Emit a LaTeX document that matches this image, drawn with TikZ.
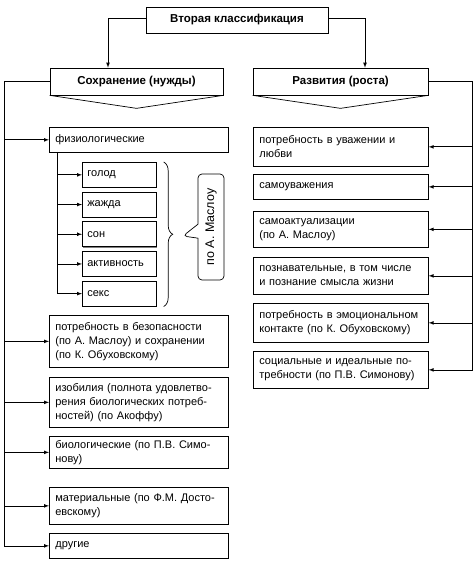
\documentclass[tikz,border=0pt]{standalone}
\usepackage{fontspec}
\setmainfont{Liberation Sans}
\usetikzlibrary{positioning,arrows,shadows,shapes.callouts,decorations.pathreplacing}

\newcommand{\fullline}[1]{\makebox[\hsize][s]{#1}}

\begin{document}
\begin{tikzpicture}[x=1pt, y=-1pt, >=latex, line width=0.7pt,
	font=\fontsize{11}{14}\selectfont,
	headbox/.style={rectangle, draw=black, fill=white, font=\fontsize{11.5}{14}\selectfont\bfseries, drop shadow={shadow xshift=1.2pt, shadow yshift=-1.2pt, fill=black}},
	itembox/.style={rectangle, draw=black, fill=white, anchor=north west, align=left, inner xsep=6pt, inner ysep=1pt, drop shadow={shadow xshift=1pt, shadow yshift=-1pt, fill=black}},
	lbox/.style={itembox, text width=167pt},
	rbox/.style={itembox, text width=163pt},
	sbox/.style={itembox, inner xsep=5pt, text width=64pt, minimum height=25pt},
	]
	\useasboundingbox[fill=white] (0,0) rectangle (474,561);
	
	%Nodes
	\node[headbox, minimum width=182pt, minimum height=26pt] (Top) at (237,20) {Вторая классификация};
	\node[headbox, minimum width=173pt, minimum height=27pt] (Sohr) at (136.5,81.5) {Сохранение (нужды)};
	\node[headbox, minimum width=175pt, minimum height=27pt] (Razv) at (340.5,81.5) {Развития (роста)};
	
	\node[lbox, minimum height=25pt] (Fiz) at (49,127) {физиологические};
	\node[sbox] (Golod) at (82,162) {голод};
	\node[sbox] (Zhazhda) [below=4pt of Golod] {жажда};
	\node[sbox] (Son) [below=4pt of Zhazhda] {сон};
	\node[sbox] (Aktiv) [below=4pt of Son] {активность};
	\node[sbox] (Seks) [below=4pt of Aktiv] {секс};
	\node[rectangle callout, draw, rounded corners=4pt, minimum width=26pt, minimum height=106pt,
		font=\fontsize{12.5}{14}\selectfont,
		callout absolute pointer={(183,236)}, callout pointer width=14pt] (Maslow) at (211,227) {\rotatebox{90}{по А. Маслоу}};
	\node[lbox, minimum height=52pt] (Bezop) at (49,315) {\fullline{потребность в безопасности}\\\fullline{(по А. Маслоу) и сохранении}\\(по К. Обуховскому)};
	\node[lbox, minimum height=50pt] (Izob) at (49,377) {\fullline{изобилия (полнота удовлетво-}\\\fullline{рения биологических потреб-}\\ностей) (по Акоффу)};
	\node[lbox, minimum height=32pt] (Biol) at (49,436) {\fullline{биологические (по П.В. Симо-}\\нову)};
	\node[lbox, minimum height=37pt] (Mater) at (49,487) {\fullline{материальные (по Ф.М. Досто-}\\евскому)};
	\node[lbox, minimum height=25pt] (Drug) at (49,533) {другие};
	
	\node[rbox, minimum height=39pt] (Uvazh) at (253,127) {потребность в уважении и\\любви};
	\node[rbox, minimum height=25pt] (Samouv) at (253,174) {самоуважения};
	\node[rbox, minimum height=36pt] (Samoakt) at (253,211) {самоактуализации\\(по А. Маслоу)};
	\node[rbox, minimum height=37pt] (Pozn) at (253,257) {\fullline{познавательные, в том числе}\\и познание смысла жизни};
	\node[rbox, minimum height=39pt] (Emoc) at (253,303) {\fullline{потребность в эмоциональном}\\контакте (по К. Обуховскому)};
	\node[rbox, minimum height=37pt] (Soc) at (253,351) {\fullline{социальные и идеальные по-}\\требности (по П.В. Симонову)};
	
	\coordinate (TrunkL) at (4,81.5);
	\coordinate (TrunkR) at (472,81.5);
	\coordinate (TrunkS) at (57,152);
	
	%Lines
	\draw[->] ([yshift=2pt]Top.west) -| ([xshift=-28.5pt]Sohr.north);
	\draw[->] ([yshift=2pt]Top.east) -| ([xshift=24.5pt]Razv.north);
	\draw (Sohr.south west) -- ([yshift=-13pt]Sohr.south) -- (Sohr.south east);
	\draw (Razv.south west) -- ([yshift=-13pt]Razv.south) -- (Razv.south east);
	
	\draw (Sohr.west) -- (TrunkL);
	\draw[->] (TrunkL) |- (Drug.west);
	\draw[->] (TrunkL |- Fiz.west) -- (Fiz.west);
	\draw[->] (TrunkL |- Bezop.west) -- (Bezop.west);
	\draw[->] (TrunkL |- Izob.west) -- (Izob.west);
	\draw[->] (TrunkL |- Biol.west) -- (Biol.west);
	\draw[->] (TrunkL |- Mater.west) -- (Mater.west);
	
	\draw[->] (TrunkS) |- (Seks.west);
	\draw[->] (TrunkS |- Golod.west) -- (Golod.west);
	\draw[->] (TrunkS |- Zhazhda.west) -- (Zhazhda.west);
	\draw[->] (TrunkS |- Son.west) -- (Son.west);
	\draw[->] (TrunkS |- Aktiv.west) -- (Aktiv.west);
	\draw[decorate, decoration={brace, amplitude=9pt}] ([xshift=7pt]Golod.north east) -- ([xshift=7pt]Seks.south east);
	
	\draw (Razv.east) -- (TrunkR);
	\draw[->] (TrunkR) |- (Soc.east);
	\draw[->] (TrunkR |- Uvazh.east) -- (Uvazh.east);
	\draw[->] (TrunkR |- Samouv.east) -- (Samouv.east);
	\draw[->] (TrunkR |- Samoakt.east) -- (Samoakt.east);
	\draw[->] (TrunkR |- Pozn.east) -- (Pozn.east);
	\draw[->] (TrunkR |- Emoc.east) -- (Emoc.east);
	
\end{tikzpicture}
\end{document}
